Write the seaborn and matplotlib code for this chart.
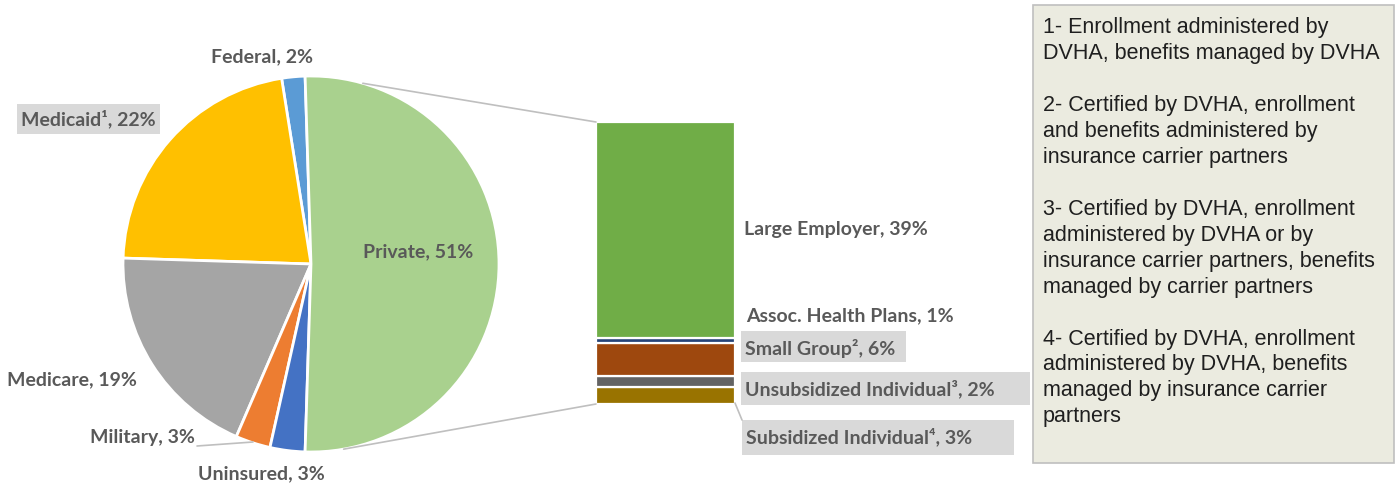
import matplotlib
matplotlib.use("Agg")
import matplotlib.pyplot as plt
import seaborn as sns
import numpy as np
from matplotlib.patches import Rectangle, ConnectionPatch

# ---------------- data ----------------
pie_labels = ["Federal", "Medicaid\u00b9", "Medicare", "Military", "Uninsured", "Private"]
pie_values = [2, 22, 19, 3, 3, 51]
pie_colors = ["#5B9BD5", "#FFC000", "#A5A5A5", "#ED7D31", "#4472C4", "#A9D18E"]

bar_labels = ["Subsidized Individual\u2074", "Unsubsidized Individual\u00b3", "Small Group\u00b2",
              "Assoc. Health Plans", "Large Employer"]
bar_values = [3, 2, 6, 1, 39]
bar_colors = ["#997300", "#636363", "#9E480E", "#264478", "#70AD47"]

notes = [
    "1- Enrollment administered by\nDVHA, benefits managed by DVHA",
    "2- Certified by DVHA, enrollment\nand benefits administered by\ninsurance carrier partners",
    "3- Certified by DVHA, enrollment\nadministered by DVHA or by\ninsurance carrier partners, benefits\nmanaged by carrier partners",
    "4- Certified by DVHA, enrollment\nadministered by DVHA, benefits\nmanaged by insurance carrier\npartners",
]

sns.set_theme(style="white")
plt.rcParams['font.family'] = ['Lato', 'DejaVu Sans']

W, H = 1396, 487
fig = plt.figure(figsize=(W / 100, H / 100), dpi=100)
fig.patch.set_facecolor("white")

def fbox(x0, y0, x1, y1):
    return [x0 / W, 1 - y1 / H, (x1 - x0) / W, (y1 - y0) / H]

# ---------------- pie ----------------
cx, cy, r = 311, 264, 188
axp = fig.add_axes(fbox(cx - r, cy - r, cx + r, cy + r))
startangle = 91.8
axp.pie(pie_values, colors=pie_colors, startangle=startangle, counterclock=True,
        wedgeprops=dict(edgecolor="white", linewidth=2))
axp.set_xlim(-1, 1)
axp.set_ylim(-1, 1)
axp.set_aspect("equal")
axp.axis("off")

# ---------------- stacked bar ----------------
axb = fig.add_axes(fbox(596, 122, 735, 404))
bottoms = np.concatenate([[0], np.cumsum(bar_values)[:-1]])
axb.bar([0] * len(bar_values), bar_values, bottom=bottoms, width=1.0,
        color=bar_colors, edgecolor="white", linewidth=1.6)
axb.set_xlim(-0.5, 0.5)
axb.set_ylim(0, sum(bar_values))
axb.axis("off")

# connectors
line_col = "#BFBFBF"
for ang, yb in [(74, sum(bar_values)), (-80, 0)]:
    a = np.deg2rad(ang)
    con = ConnectionPatch(xyA=(np.cos(a), np.sin(a)), coordsA=axp.transData,
                          xyB=(-0.5, yb), coordsB=axb.transData,
                          color=line_col, lw=1.2)
    fig.add_artist(con)

# ---------------- overlay for labels ----------------
axo = fig.add_axes([0, 0, 1, 1], facecolor="none")
axo.set_xlim(0, W)
axo.set_ylim(H, 0)
axo.axis("off")

lab_col = "#595959"
fs = 14
fam = ['Lato', 'DejaVu Sans']
kw = dict(fontsize=fs, fontweight="bold", color=lab_col, family=fam)

def lab(i):
    return f"{pie_labels[i]}, {pie_values[i]}%"

# pie labels
axo.text(262, 57, lab(0), ha="center", va="center", **kw)
axo.add_patch(Rectangle((17, 104), 143, 30, facecolor="#D9D9D9", edgecolor="none"))
axo.text(88, 119, lab(1), ha="center", va="center", **kw)
axo.text(72, 380, lab(2), ha="center", va="center", **kw)
axo.text(142, 437, lab(3), ha="center", va="center", **kw)
axo.plot([197, 253], [446, 442], color=line_col, lw=1.2)
axo.text(261, 474, lab(4), ha="center", va="center", **kw)
axo.text(418, 252, lab(5), ha="center", va="center", **kw)

# bar labels
def blab(i):
    return f"{bar_labels[i]}, {bar_values[i]}%"

axo.text(744, 230, blab(4), ha="left", va="center", **kw)
axo.text(746, 316, blab(3), ha="left", va="center", **kw)
axo.add_patch(Rectangle((741, 331), 165, 31, facecolor="#D9D9D9", edgecolor="none"))
axo.text(745, 348, blab(2), ha="left", va="center", **kw)
axo.add_patch(Rectangle((741, 372), 289, 33, facecolor="#D9D9D9", edgecolor="none"))
axo.text(745, 389, blab(1), ha="left", va="center", **kw)
axo.plot([735, 742], [403, 420], color=line_col, lw=1.2)
axo.add_patch(Rectangle((742, 420), 272, 35, facecolor="#D9D9D9", edgecolor="none"))
axo.text(746, 437, blab(0), ha="left", va="center", **kw)

# notes box
axo.add_patch(Rectangle((1033, 5), 361, 458, facecolor="#EBEBE0", edgecolor="#BFBFBF", lw=1.2))
axo.text(1043, 17, "\n\n".join(notes), ha="left", va="top", fontsize=15.5, color="#1F1F1F",
         family=["Liberation Sans", "DejaVu Sans"], linespacing=1.31)

fig.savefig("out.png", dpi=100, facecolor="white")
